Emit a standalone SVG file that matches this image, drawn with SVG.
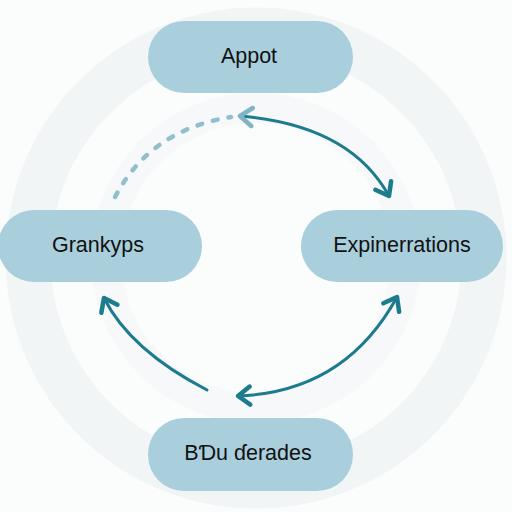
<svg xmlns="http://www.w3.org/2000/svg" width="512" height="512" viewBox="0 0 512 512">
  <style>
    .node rect { fill: #a9cfdc; }
    .node text { font-family: "Liberation Sans", Arial, sans-serif; font-size: 21.5px; fill: #111; text-anchor: middle; }
    .conn { fill: none; stroke: #1c7b8d; stroke-width: 3; stroke-linecap: round; }
    .dash { fill: none; stroke: #92bfcc; stroke-width: 4.5; stroke-linecap: round; stroke-dasharray: 5 11; }
  </style>
  <defs>
    <marker id="arrow" viewBox="0 0 24 24" refX="18" refY="12" markerWidth="24" markerHeight="24" markerUnits="userSpaceOnUse" orient="auto-start-reverse">
      <path d="M6,3 L18,12 L6,21" fill="none" stroke="#1c7b8d" stroke-width="4.5" stroke-linecap="round" stroke-linejoin="round"/>
    </marker>
    <marker id="arrowLight" viewBox="0 0 24 24" refX="18" refY="12" markerWidth="24" markerHeight="24" markerUnits="userSpaceOnUse" orient="auto-start-reverse">
      <path d="M6,3 L18,12 L6,21" fill="none" stroke="#7fb4c4" stroke-width="4.5" stroke-linecap="round" stroke-linejoin="round"/>
    </marker>
  </defs>
  <rect width="512" height="512" fill="#fbfcfc"/>
  <g id="background" fill="none">
    <circle cx="256" cy="258" r="228" stroke="#f1f5f6" stroke-width="45"/>
    <circle cx="256" cy="258" r="150" stroke="#f6f8f9" stroke-width="30"/>
  </g>
  <g id="connectors">
    <path class="dash" d="M115,197 Q150,130 231,117"/>
    <path class="conn" d="M240,116 Q350,125 389,196" marker-start="url(#arrowLight)" marker-end="url(#arrow)"/>
    <path class="conn" d="M207,390 Q130,350 104,298" marker-end="url(#arrow)"/>
    <path class="conn" d="M238,396 Q345,392 397,297" marker-start="url(#arrow)" marker-end="url(#arrow)"/>
  </g>
  <g id="node-appot" class="node">
    <rect x="148" y="21" width="205" height="72" rx="36"/>
    <text x="249" y="63">Appot</text>
  </g>
  <g id="node-grankyps" class="node">
    <rect x="-2" y="210" width="204" height="72" rx="36"/>
    <text x="98" y="252">Grankyps</text>
  </g>
  <g id="node-expinerrations" class="node">
    <rect x="301" y="210" width="202" height="72" rx="36"/>
    <text x="402" y="252">Expinerrations</text>
  </g>
  <g id="node-bdu" class="node">
    <rect x="148" y="418" width="205" height="73" rx="36"/>
    <text x="248" y="460">BƊu ɗerades</text>
  </g>
</svg>
